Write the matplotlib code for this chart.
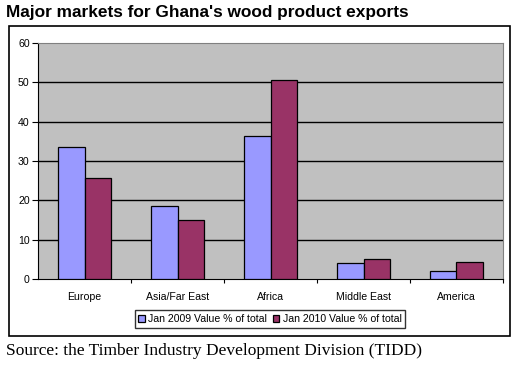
import numpy as np
import matplotlib
matplotlib.use("Agg")
import matplotlib.pyplot as plt
from matplotlib.patches import Rectangle

plt.rcParams['font.family'] = ['Liberation Sans', 'DejaVu Sans']

markets = ["Europe", "Asia/Far East", "Africa", "Middle East", "America"]
jan_2009 = [33.5, 18.6, 36.4, 4.1, 2.1]
jan_2010 = [25.7, 15.0, 50.7, 5.0, 4.4]
series_names = ["Jan 2009 Value % of total", "Jan 2010 Value % of total"]

W, H = 525, 368
fig = plt.figure(figsize=(W / 100, H / 100), dpi=100)

# outer chart frame
fig.patches.append(Rectangle((9 / W, 1 - 336 / H), 501 / W, 310 / H,
                             transform=fig.transFigure, fill=False,
                             edgecolor='black', linewidth=1.2))

ax = fig.add_axes([38 / W, 1 - 279 / H, 465 / W, 236 / H])
ax.set_facecolor('#C0C0C0')

x = np.arange(len(markets))
bw = 0.29
ax.bar(x - bw / 2, jan_2009, bw, color='#9999FF', edgecolor='black',
       linewidth=0.9, label=series_names[0], zorder=3)
ax.bar(x + bw / 2, jan_2010, bw, color='#993366', edgecolor='black',
       linewidth=0.9, label=series_names[1], zorder=3)

ax.set_xlim(-0.5, len(markets) - 0.5)
ax.set_ylim(0, 60)
ax.set_yticks(range(0, 61, 10))
for v in range(10, 60, 10):
    ax.axhline(v, color='black', linewidth=1, zorder=1)

ax.set_xticks(x)
ax.set_xticklabels(markets, fontsize=7.6)
ax.set_xticks(np.arange(0.5, len(markets) - 0.5 + 0.01, 1.0), minor=True)
ax.tick_params(axis='x', which='major', length=0, pad=9)
ax.tick_params(axis='x', which='minor', length=3, direction='out', width=0.8)
ax.tick_params(axis='y', length=4, width=0.8, labelsize=7.6, pad=2)

for s in ['top', 'right']:
    ax.spines[s].set_color('#808080')
for s in ['left', 'bottom']:
    ax.spines[s].set_color('black')

fig.text(6 / W, 1 - 13 / H, "Major markets for Ghana's wood product exports",
         fontsize=12.4, fontweight='bold', va='center', ha='left')

leg = fig.legend(loc='center', bbox_to_anchor=(270 / W, 1 - 319 / H), ncol=2,
                 fontsize=7.6, frameon=True, fancybox=False, edgecolor='black',
                 handlelength=0.6, handleheight=0.6, handletextpad=0.3,
                 columnspacing=0.6, borderpad=0.35, borderaxespad=0)
leg.get_frame().set_linewidth(1)

fig.text(6 / W, 1 - 351 / H, "Source: the Timber Industry Development Division (TIDD)",
         fontsize=12.5, family='Liberation Serif', va='center', ha='left')

fig.savefig("out.png", dpi=100)
